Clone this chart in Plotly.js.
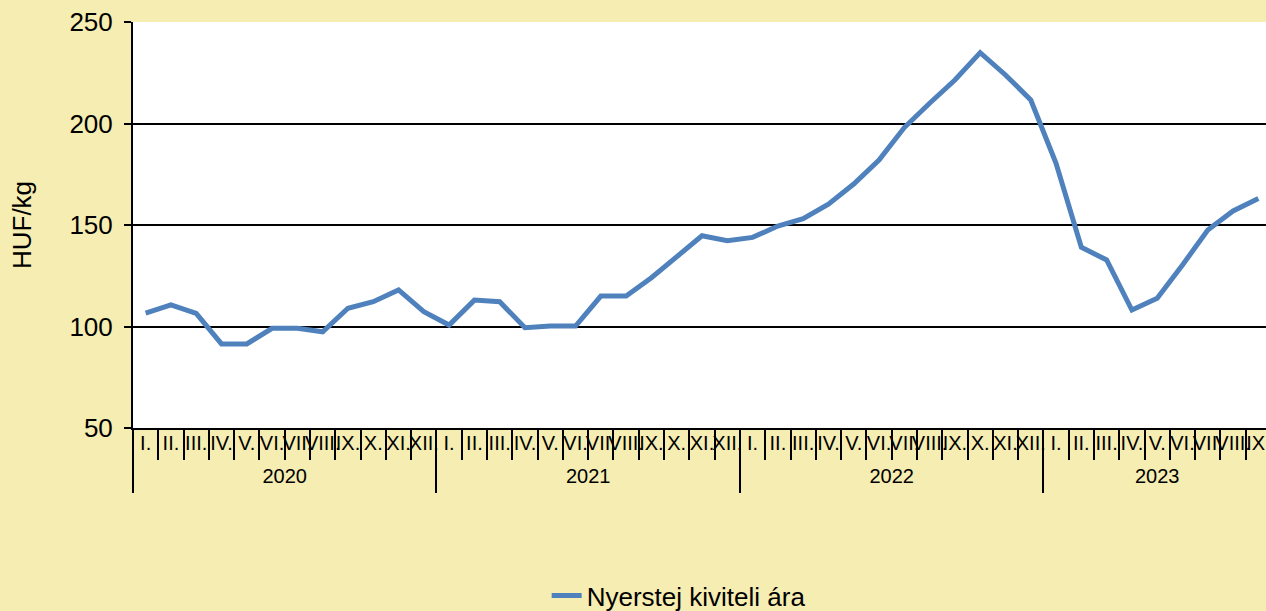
<!DOCTYPE html>
<html>
<head>
<meta charset="utf-8">
<script src="https://cdn.plot.ly/plotly-3.0.1.min.js"></script>
<style>
html,body{margin:0;padding:0;overflow:hidden;background:#F5EDB1;}
#chart{width:1272px;height:611px;}
</style>
</head>
<body>
<div id="chart"></div>
<script>
const yearLabels = ["2020","2021","2022","2023"];
const monthLabels = ["I.","II.","III.","IV.","V.","VI.","VII.","VIII.","IX.","X.","XI.","XII."];
const monthsPerYear = [12,12,12,9];
const seriesName = "Nyerstej kiviteli ára";
const values2020 = [106.6,110.6,106.5,91.4,91.4,99.1,99.1,97.4,109,112.2,118,107.3];
const values2021 = [100.7,113,112.2,99.4,100.2,100.2,115,115,124,134.4,144.7,142.3];
const values2022 = [143.9,149.5,153.1,160.3,170.2,182,198,210,221.4,234.9,223.9,211.6];
const values2023 = [180.4,139,132.8,108.1,113.9,130.3,147.5,156.9,163.1];
const yTicks = [50,100,150,200,250];

// month index positions and labels
const xIdx = [], xMonthText = [];
const yearCenters = [], yearBounds = [];
let k = 0;
yearLabels.forEach((y,i)=>{
  yearBounds.push(k - 0.5);
  yearCenters.push(k + (monthsPerYear[i]-1)/2);
  for(let m=0;m<monthsPerYear[i];m++){ xIdx.push(k); xMonthText.push(monthLabels[m]); k++; }
});
const yVals = [].concat(values2020,values2021,values2022,values2023);
const xRange = [-0.5, xIdx.length - 0.5];

const font = "Liberation Sans, Arial, sans-serif";
const trace = {
  x:xIdx, y:yVals, type:"scatter", mode:"lines", name:seriesName,
  line:{color:"#4F81BD", width:5}, showlegend:true
};
const helper = {x:[], y:[], xaxis:"x2", type:"scatter", mode:"lines", showlegend:false, hoverinfo:"skip"};
const layout = {
  width:1272, height:611,
  paper_bgcolor:"#F5EDB1", plot_bgcolor:"#FFFFFF",
  margin:{l:133, r:1, t:22, b:183, autoexpand:false},
  font:{family:font, color:"#000"},
  xaxis:{
    range:xRange, tickmode:"array", tickvals:xIdx, ticktext:xMonthText,
    ticks:"", tickangle:0, ticklabelstandoff:-4,
    tickfont:{size:20, family:font, color:"#000"},
    minor:{tickmode:"linear", tick0:-0.5, dtick:1, ticks:"outside", ticklen:30, tickwidth:2, tickcolor:"#000", showgrid:false},
    showline:true, linecolor:"#000", linewidth:2,
    showgrid:false, zeroline:false, automargin:false
  },
  xaxis2:{
    overlaying:"x", anchor:"y", side:"bottom",
    range:xRange, tickmode:"array", tickvals:yearCenters, ticktext:yearLabels,
    ticks:"", tickangle:0, ticklabelstandoff:34,
    tickfont:{size:20, family:font, color:"#000"},
    minor:{tickmode:"array", tickvals:yearBounds, ticks:"outside", ticklen:64, tickwidth:2, tickcolor:"#000", showgrid:false},
    showline:false, showgrid:false, zeroline:false, automargin:false
  },
  yaxis:{
    range:[50,250], tickvals:yTicks, ticktext:yTicks.map(String),
    showline:true, linecolor:"#000", linewidth:2,
    ticks:"outside", ticklen:7, tickwidth:2, tickcolor:"#000",
    ticklabelstandoff:6,
    showgrid:true, gridcolor:"#000", gridwidth:2, zeroline:false,
    tickfont:{size:26, family:font, color:"#000"},
    title:{text:"HUF/kg", font:{size:26, family:font, color:"#000"}, standoff:30},
    automargin:false
  },
  legend:{orientation:"h", x:0.4795, xanchor:"center", y:-0.413, yanchor:"middle",
    font:{size:26, family:font, color:"#000"}, bgcolor:"rgba(0,0,0,0)"},
  showlegend:true
};
Plotly.newPlot("chart",[trace, helper],layout,{displayModeBar:false, staticPlot:true});
</script>
</body>
</html>
